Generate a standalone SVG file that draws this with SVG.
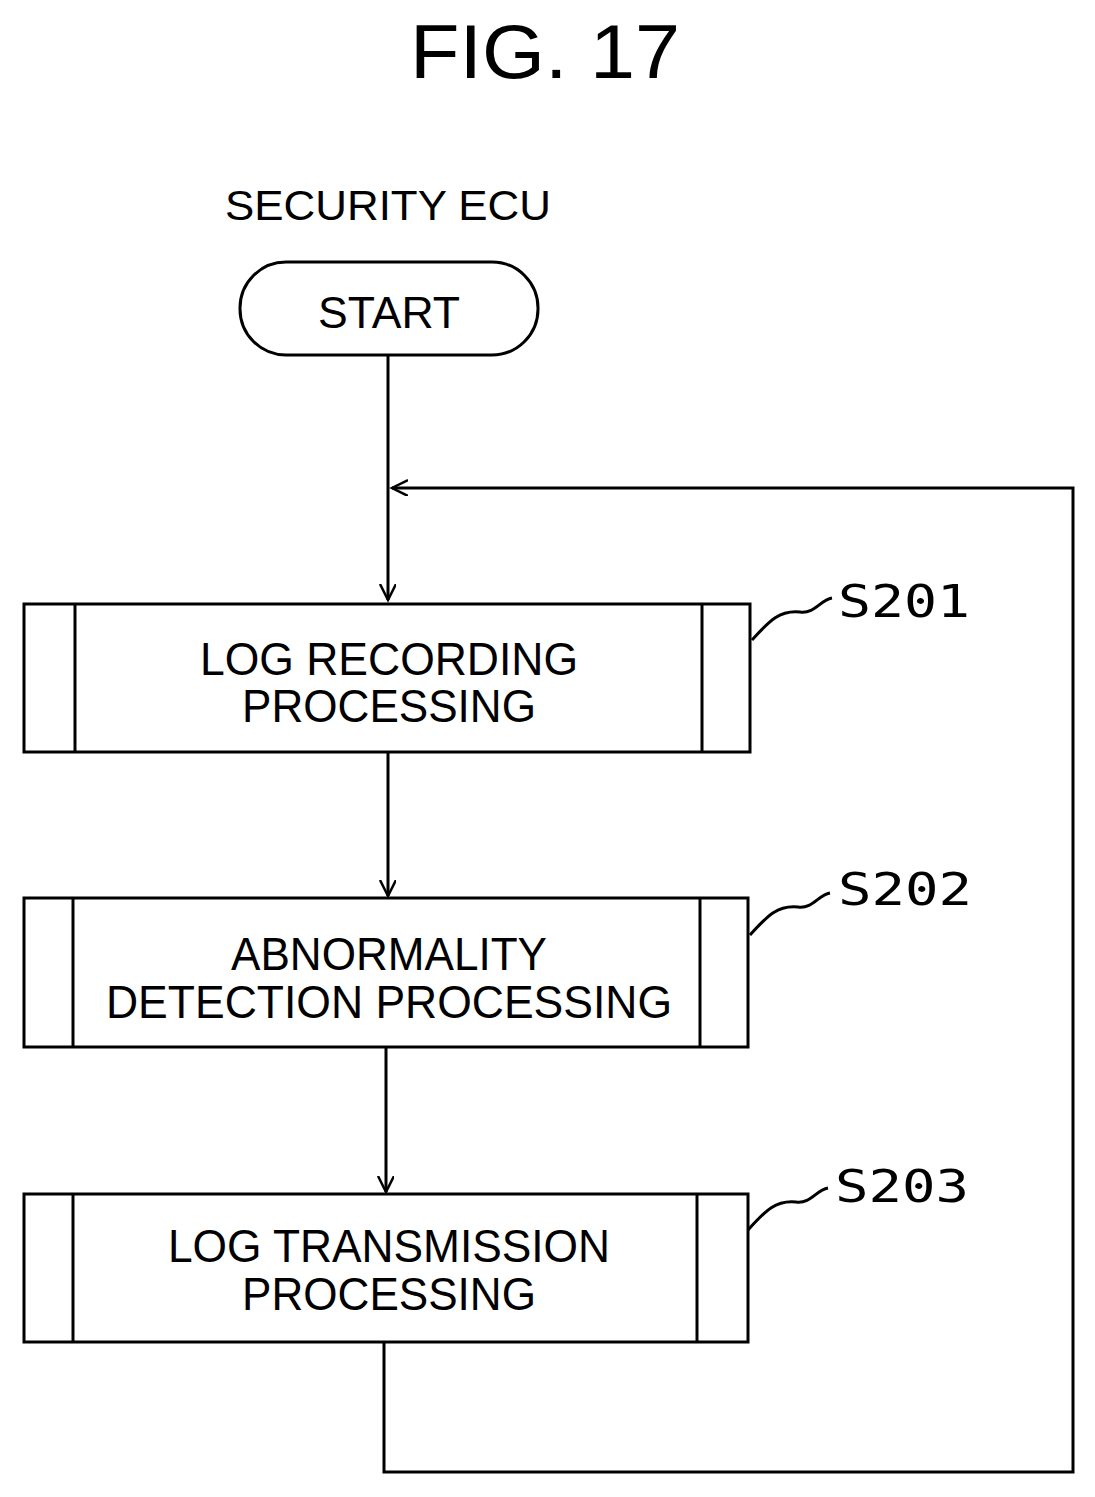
<svg xmlns="http://www.w3.org/2000/svg" width="1095" height="1497" viewBox="0 0 1095 1497">
<style>
.t{font-family:"Liberation Sans",Arial,sans-serif;fill:#000;text-anchor:middle}
.s{font-family:"DejaVu Sans Mono","Liberation Mono",monospace;fill:#000;font-size:44px}
.b{fill:#fff;stroke:#000;stroke-width:3}
.l{fill:none;stroke:#000;stroke-width:3}
</style>
<defs>
<marker id="a" markerWidth="20" markerHeight="20" refX="16" refY="8" orient="auto" markerUnits="userSpaceOnUse">
<polyline points="0,0 16,8 0,16" fill="none" stroke="#000" stroke-width="2.5"/>
</marker>
</defs>
<rect width="1095" height="1497" fill="#fff"/>
<text class="t" x="545" y="78" font-size="76" textLength="270" lengthAdjust="spacingAndGlyphs">FIG. 17</text>
<text class="t" x="388" y="220" font-size="42" textLength="326" lengthAdjust="spacingAndGlyphs">SECURITY ECU</text>
<g id="connectors">
<line class="l" x1="388" y1="355" x2="388" y2="600" marker-end="url(#a)"/>
<line class="l" x1="388" y1="752" x2="388" y2="896" marker-end="url(#a)"/>
<line class="l" x1="386" y1="1047" x2="386" y2="1192" marker-end="url(#a)"/>
<polyline class="l" points="384,1342 384,1472 1073,1472 1073,488 392,488" marker-end="url(#a)"/>
<path class="l" d="M752,640 C770,620 780,610 800,612 C815,614 820,600 832,598" stroke-width="2"/>
<path class="l" d="M750,935 C768,915 778,905 798,907 C813,909 818,895 830,893" stroke-width="2"/>
<path class="l" d="M748,1230 C766,1210 776,1200 796,1202 C811,1204 816,1190 828,1188" stroke-width="2"/>
</g>
<g id="start">
<rect class="b" x="240" y="262" width="298" height="93" rx="46"/>
<text class="t" x="389" y="328" font-size="44" textLength="142" lengthAdjust="spacingAndGlyphs">START</text>
</g>
<g id="s201">
<rect class="b" x="24" y="604" width="726" height="148"/>
<line class="l" x1="75" y1="604" x2="75" y2="752"/><line class="l" x1="702" y1="604" x2="702" y2="752"/>
<text class="t" x="389" y="675" font-size="46" textLength="378" lengthAdjust="spacingAndGlyphs">LOG RECORDING</text>
<text class="t" x="389" y="722" font-size="46" textLength="294" lengthAdjust="spacingAndGlyphs">PROCESSING</text>
<text class="s" x="838" y="617" textLength="132" lengthAdjust="spacingAndGlyphs">S201</text>
</g>
<g id="s202">
<rect class="b" x="24" y="898" width="724" height="149"/>
<line class="l" x1="73" y1="898" x2="73" y2="1047"/><line class="l" x1="700" y1="898" x2="700" y2="1047"/>
<text class="t" x="389" y="970" font-size="46" textLength="316" lengthAdjust="spacingAndGlyphs">ABNORMALITY</text>
<text class="t" x="389" y="1018" font-size="46" textLength="566" lengthAdjust="spacingAndGlyphs">DETECTION PROCESSING</text>
<text class="s" x="838" y="905" textLength="134" lengthAdjust="spacingAndGlyphs">S202</text>
</g>
<g id="s203">
<rect class="b" x="24" y="1194" width="724" height="148"/>
<line class="l" x1="73" y1="1194" x2="73" y2="1342"/><line class="l" x1="697" y1="1194" x2="697" y2="1342"/>
<text class="t" x="389" y="1262" font-size="46" textLength="442" lengthAdjust="spacingAndGlyphs">LOG TRANSMISSION</text>
<text class="t" x="389" y="1310" font-size="46" textLength="294" lengthAdjust="spacingAndGlyphs">PROCESSING</text>
<text class="s" x="835" y="1202" textLength="134" lengthAdjust="spacingAndGlyphs">S203</text>
</g>
</svg>
